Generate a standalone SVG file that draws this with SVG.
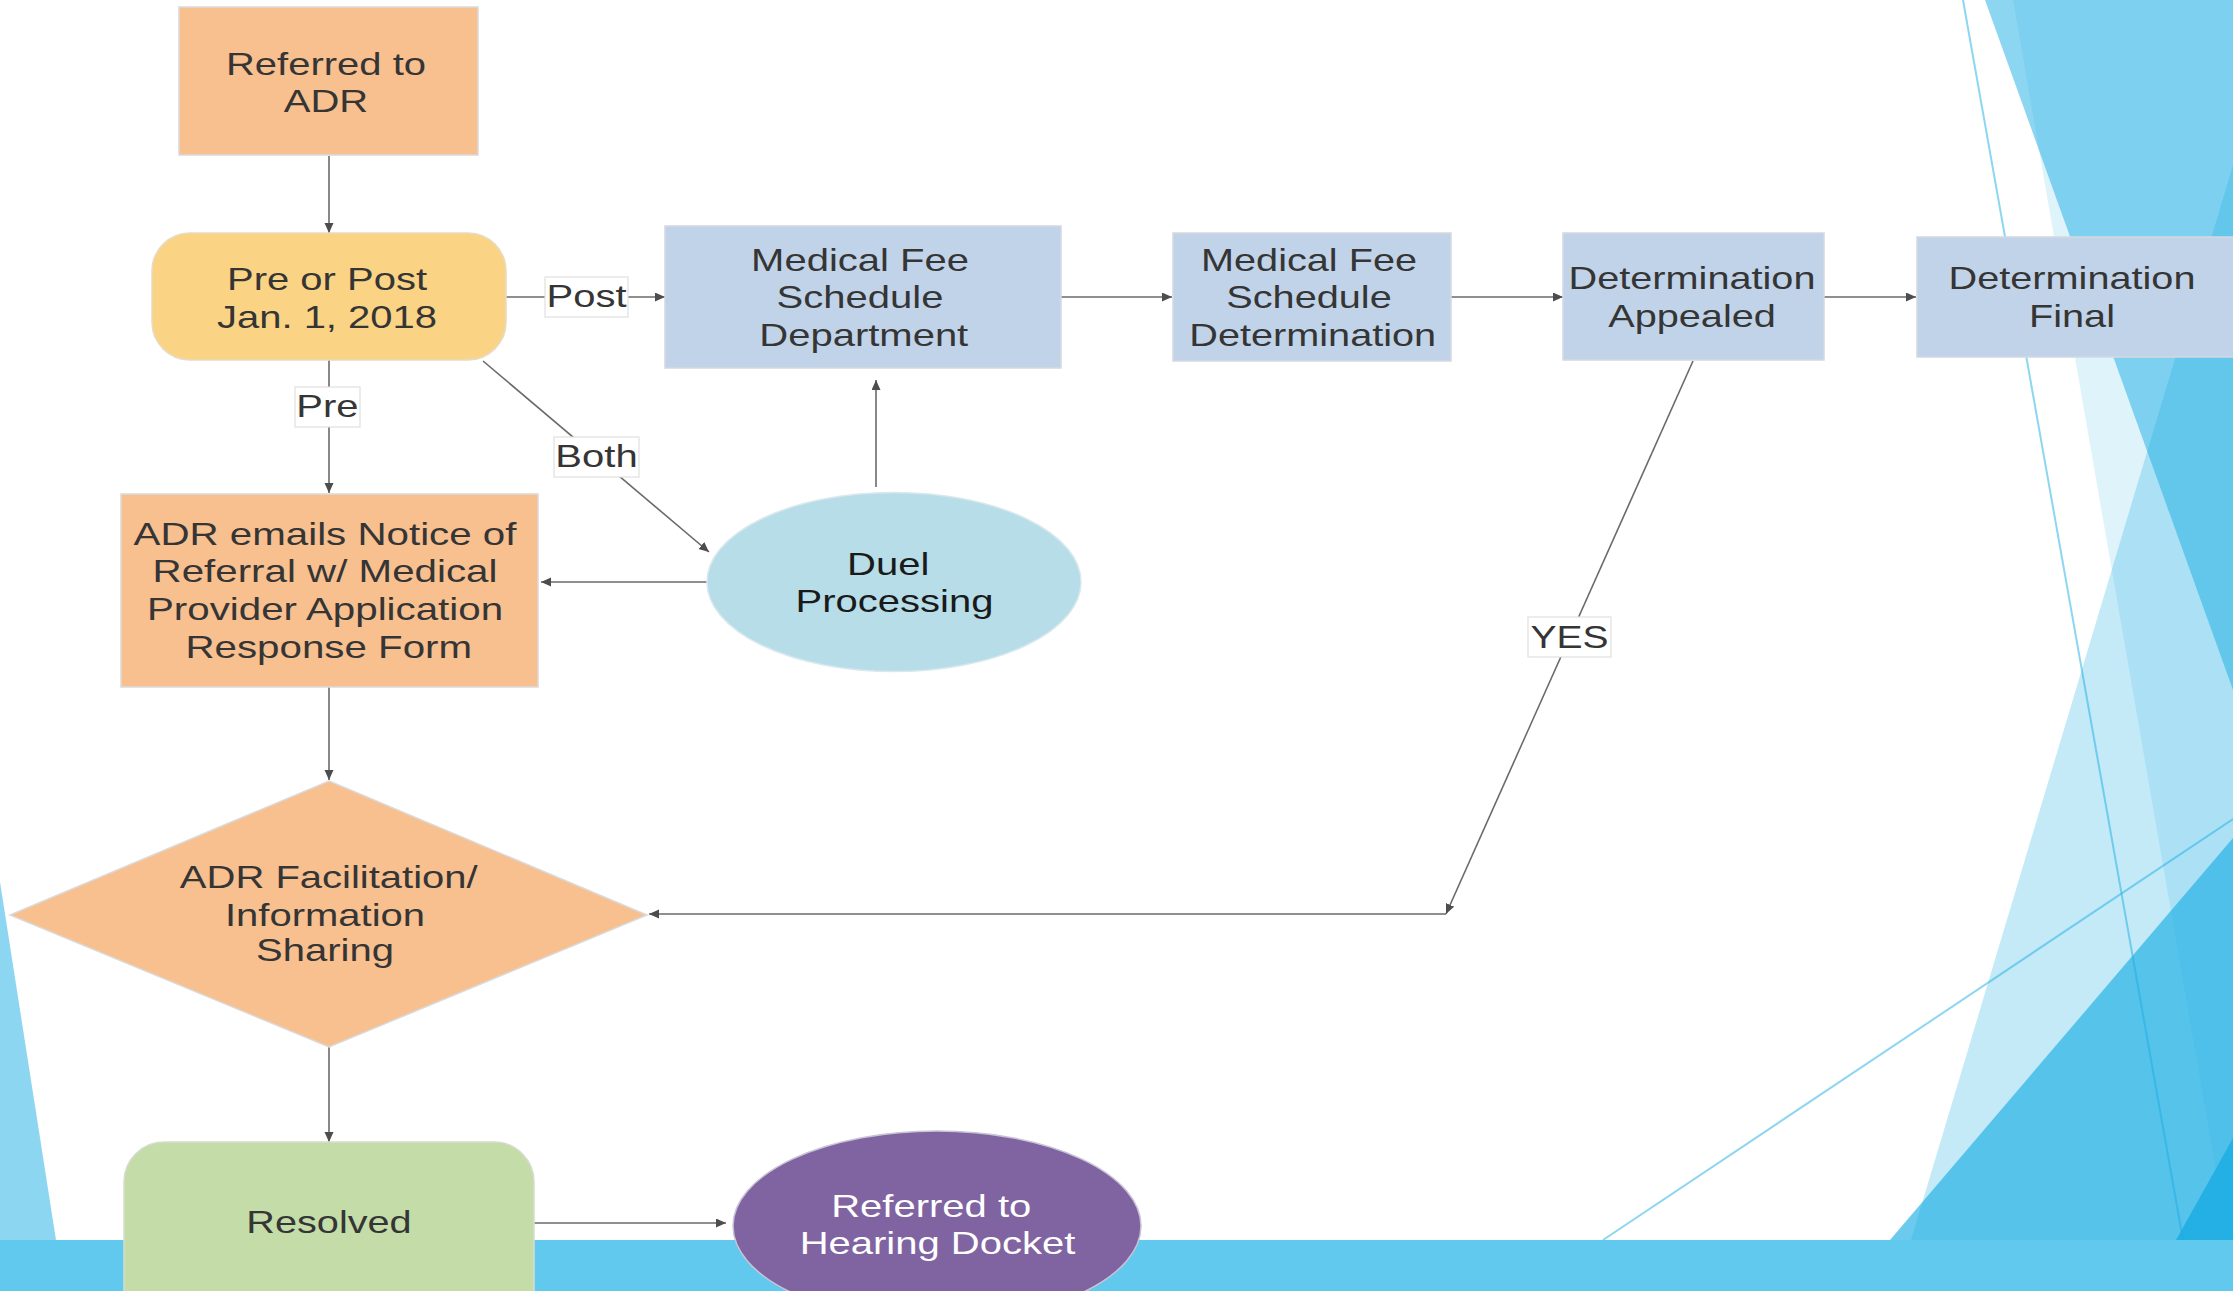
<svg xmlns="http://www.w3.org/2000/svg" width="2233" height="1291" viewBox="0 0 2233 1291">
<style>
.t{font-family:"Liberation Sans",Arial,sans-serif;font-size:32px;fill:#353535;text-anchor:middle}
.w{fill:#ffffff}
.k{fill:#1a1a1a}
.c{fill:none;stroke:#6a6a6a;stroke-width:1.6;marker-end:url(#ah)}
.lb{fill:#ffffff;stroke:#e0e0e0;stroke-width:1.2}
.orange{fill:#f8bf8f;stroke:#dadada;stroke-width:1.5}
.blue{fill:#c1d3e8;stroke:#d3d9e1;stroke-width:1.5}
.deco{fill:#1cade4}
.dl{stroke:#1cade4;stroke-opacity:0.5;stroke-width:2;fill:none}
</style>
<defs>
<marker id="ah" markerUnits="userSpaceOnUse" markerWidth="11" markerHeight="10" refX="10" refY="4.5" orient="auto"><path d="M0,0 L10,4.5 L0,9 z" fill="#4d4d4d"/></marker>
</defs>
<rect x="0" y="0" width="2233" height="1291" fill="#ffffff"/>
<g id="background">
<polygon class="deco" fill-opacity="0.14" points="2013,0 2233,0 2233,1240 2228,1240"/>
<polygon class="deco" fill-opacity="0.5" points="1985,0 2233,0 2233,690"/>
<polygon class="deco" fill-opacity="0.26" points="2233,165 2233,1240 1911,1240"/>
<polygon class="deco" fill-opacity="0.65" points="2233,838 2233,1240 1890,1240"/>
<polygon class="deco" fill-opacity="0.85" points="2233,1138 2233,1240 2176,1240"/>
<line class="dl" x1="1963" y1="0" x2="2183" y2="1240"/>
<line class="dl" x1="1603" y1="1240" x2="2233" y2="819"/>
<polygon class="deco" fill-opacity="0.5" points="0,882 56,1240 0,1240"/>
<rect x="0" y="1240" width="2233" height="51" fill="#60c9ed"/>
</g>
<g id="connectors">
<path class="c" d="M329,156 V233"/>
<path class="c" d="M506,297 H665"/>
<path class="c" d="M329,360 V493"/>
<path class="c" d="M483,361 L709,552"/>
<path class="c" d="M1061,297 H1172"/>
<path class="c" d="M1451,297 H1563"/>
<path class="c" d="M1824,297 H1916"/>
<path class="c" d="M876,487 V380"/>
<path class="c" d="M707,582 H541"/>
<path class="c" d="M329,687 V780"/>
<path class="c" d="M1693,361 L1446,914"/>
<path class="c" d="M1446,914 H649"/>
<path class="c" d="M329,1047 V1142"/>
<path class="c" d="M534,1223 H726"/>
<g id="label-post"><rect class="lb" x="545" y="277" width="83" height="40"/><text class="t" transform="translate(586.5,0) scale(1.25,1)" x="0" y="307">Post</text></g>
<g id="label-pre"><rect class="lb" x="295" y="387" width="65" height="40"/><text class="t" transform="translate(327.5,0) scale(1.25,1)" x="0" y="417">Pre</text></g>
<g id="label-both"><rect class="lb" x="554" y="437" width="85" height="40"/><text class="t" transform="translate(596.5,0) scale(1.25,1)" x="0" y="467">Both</text></g>
<g id="label-yes"><rect class="lb" x="1528" y="617" width="83" height="40"/><text class="t" transform="translate(1569.5,0) scale(1.22,1)" x="0" y="648">YES</text></g>
</g>
<g id="referred-adr">
<rect class="orange" x="179" y="7" width="299" height="148"/>
<text class="t" transform="translate(326,0) scale(1.25,1)"><tspan x="0" y="75">Referred to</tspan><tspan x="0" y="112">ADR</tspan></text>
</g>
<g id="pre-post">
<rect x="152" y="233" width="354" height="127" rx="38" ry="38" fill="#fad385" stroke="#e6dcc0" stroke-width="1.5"/>
<text class="t" transform="translate(327,0) scale(1.25,1)"><tspan x="0" y="290">Pre or Post</tspan><tspan x="0" y="328">Jan. 1, 2018</tspan></text>
</g>
<g id="mfs-department">
<rect class="blue" x="665" y="226" width="396" height="142"/>
<text class="t" transform="translate(860,0) scale(1.25,1)"><tspan x="0" y="271">Medical Fee</tspan><tspan x="0" y="308">Schedule</tspan><tspan x="3" y="346">Department</tspan></text>
</g>
<g id="mfs-determination">
<rect class="blue" x="1173" y="233" width="278" height="128"/>
<text class="t" transform="translate(1309,0) scale(1.24,1)"><tspan x="0" y="271">Medical Fee</tspan><tspan x="0" y="308">Schedule</tspan><tspan x="3" y="346">Determination</tspan></text>
</g>
<g id="determination-appealed">
<rect class="blue" x="1563" y="233" width="261" height="127"/>
<text class="t" transform="translate(1692,0) scale(1.24,1)"><tspan x="0" y="289">Determination</tspan><tspan x="0" y="327">Appealed</tspan></text>
</g>
<g id="determination-final">
<rect class="blue" x="1917" y="237" width="330" height="120"/>
<text class="t" transform="translate(2072,0) scale(1.24,1)"><tspan x="0" y="289">Determination</tspan><tspan x="0" y="327">Final</tspan></text>
</g>
<g id="duel-processing">
<ellipse cx="894" cy="582" rx="187" ry="89.5" fill="#b7dde8" stroke="#d8e8ee" stroke-width="1.5"/>
<text class="t k" transform="translate(892,0) scale(1.25,1)"><tspan x="-3" y="575">Duel</tspan><tspan x="2" y="612">Processing</tspan></text>
</g>
<g id="adr-emails">
<rect class="orange" x="121" y="494" width="417" height="193"/>
<text class="t" transform="translate(325,0) scale(1.26,1)"><tspan x="0" y="545">ADR emails Notice of</tspan><tspan x="0" y="582">Referral w/ Medical</tspan><tspan x="0" y="620">Provider Application</tspan><tspan x="3" y="658">Response Form</tspan></text>
</g>
<g id="adr-facilitation">
<polygon points="329,781 647,915 329,1047 10,915" fill="#f8bf8f" stroke="#dadada" stroke-width="1.5"/>
<text class="t" transform="translate(325,0) scale(1.25,1)"><tspan x="3" y="888">ADR Facilitation/</tspan><tspan x="0" y="926">Information</tspan><tspan x="0" y="961">Sharing</tspan></text>
</g>
<g id="resolved">
<rect x="124" y="1142" width="410" height="200" rx="40" ry="40" fill="#c3dca8" stroke="#d6dccf" stroke-width="1.5"/>
<text class="t" transform="translate(329,0) scale(1.24,1)" x="0" y="1233">Resolved</text>
</g>
<g id="hearing-docket">
<ellipse cx="937" cy="1226" rx="204" ry="95" fill="#8064a2" stroke="#c9c3d6" stroke-width="1.5"/>
<text class="t w" transform="translate(935,0) scale(1.25,1)"><tspan x="-3" y="1217">Referred to</tspan><tspan x="2" y="1254">Hearing Docket</tspan></text>
</g>
</svg>
